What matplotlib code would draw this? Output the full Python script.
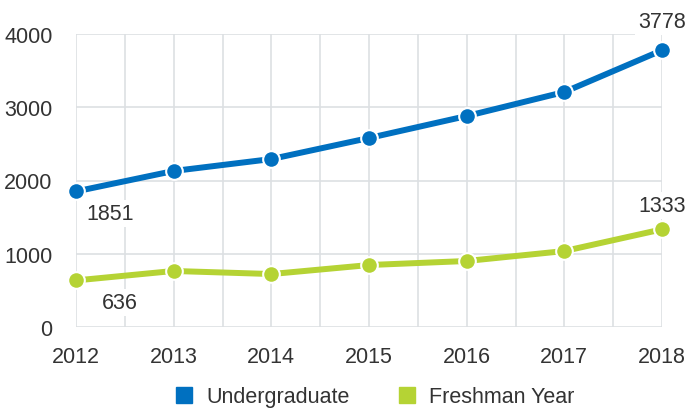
import matplotlib
matplotlib.use('Agg')
import matplotlib.pyplot as plt
from matplotlib.lines import Line2D

years = [2012, 2013, 2014, 2015, 2016, 2017, 2018]
undergraduate = [1851, 2130, 2293, 2580, 2880, 3208, 3778]
freshman = [636, 765, 723, 846, 901, 1037, 1333]
series_names = ['Undergraduate', 'Freshman Year']

blue = '#0070c0'
green = '#b5d334'
text_col = '#333333'
grid_col = '#dde0e3'

plt.rcParams['font.family'] = ['Liberation Sans', 'DejaVu Sans']

fig = plt.figure(figsize=(6.87, 4.10), dpi=100)
ax = fig.add_axes([76 / 687, 1 - 328 / 410, (662 - 76) / 687, (328 - 35) / 410])

ax.set_xlim(2012, 2018)
ax.set_ylim(0, 4000)

# grid: every 1000 on y, every half year on x
for y in range(0, 4001, 1000):
    ax.axhline(y, color=grid_col, lw=1.2, zorder=0)
for i in range(13):
    ax.axvline(2012 + i * 0.5, color=grid_col, lw=1.2, zorder=0)

for vals, col in [(undergraduate, blue), (freshman, green)]:
    ax.plot(years, vals, color=col, lw=4.3, solid_capstyle='round', zorder=3,
            clip_on=False)
    ax.plot(years, vals, 'o', color=col, ms=12, mec='white', mew=1.5,
            zorder=4, clip_on=False)

for s in ax.spines.values():
    s.set_visible(False)
ax.set_xticks(years)
ax.set_yticks(range(0, 4001, 1000))
ax.tick_params(length=0, labelsize=15.5, labelcolor=text_col)
ax.tick_params(axis='x', pad=14)
ax.tick_params(axis='y', pad=17)

box = dict(facecolor='white', edgecolor='none', pad=2)
ax.annotate(str(undergraduate[0]), (years[0], undergraduate[0]), xytext=(34, -22),
            textcoords='offset pixels', ha='center', va='center', fontsize=15.5,
            color=text_col, bbox=box, zorder=5)
ax.annotate(str(freshman[0]), (years[0], freshman[0]), xytext=(44, -22),
            textcoords='offset pixels', ha='center', va='center', fontsize=15.5,
            color=text_col, bbox=box, zorder=5)
ax.annotate(str(undergraduate[-1]), (years[-1], undergraduate[-1]), xytext=(0, 29),
            textcoords='offset pixels', ha='center', va='center', fontsize=15.5,
            color=text_col, bbox=box, zorder=5)
ax.annotate(str(freshman[-1]), (years[-1], freshman[-1]), xytext=(0, 24),
            textcoords='offset pixels', ha='center', va='center', fontsize=15.5,
            color=text_col, bbox=box, zorder=5)

handles = [Line2D([], [], marker='s', ls='none', color=blue, ms=11),
           Line2D([], [], marker='s', ls='none', color=green, ms=11)]
fig.legend(handles, series_names, loc='center', bbox_to_anchor=(374 / 687, 1 - 398 / 410),
           ncol=2, frameon=False, fontsize=15.5, labelcolor=text_col,
           handletextpad=0.5, columnspacing=2.2, handlelength=1.0,
           borderaxespad=0, borderpad=0)

fig.savefig('out.png', dpi=100)
